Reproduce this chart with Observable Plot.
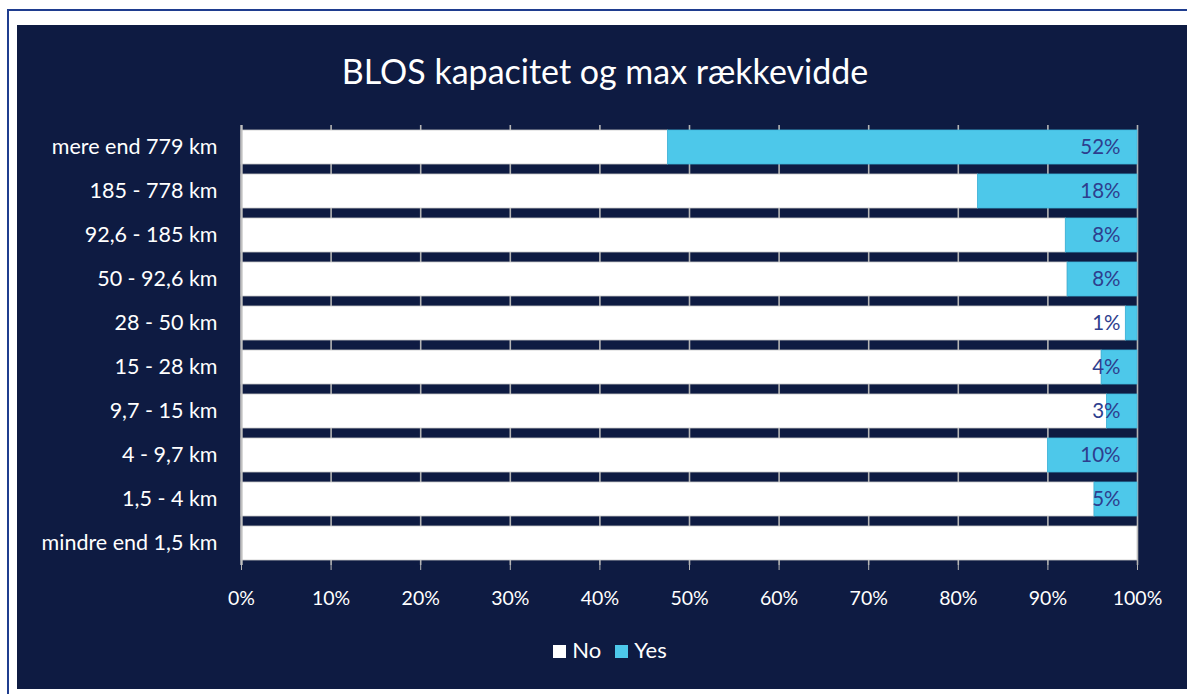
<!DOCTYPE html>
<html>
<head>
<meta charset="utf-8">
<script src="https://cdn.jsdelivr.net/npm/d3@7"></script>
<script src="https://cdn.jsdelivr.net/npm/@observablehq/plot@0.6"></script>
<style>
  html, body { margin: 0; padding: 0; background: #ffffff; width: 1187px; height: 694px; overflow: hidden; }
  #frame { position: absolute; left: 7px; top: 9px; width: 1200px; height: 720px; border: 2px solid #1f3d8f; box-sizing: border-box; }
  #panel { position: absolute; left: 17px; top: 25px; width: 1170px; height: 664px; background: #0e1b42; font-family: Lato, "Noto Sans", sans-serif; color: #fff; }
  #title { position: absolute; left: 0; width: 1176px; top: 26px; text-align: center; font-size: 34px; line-height: 40px; color: #fff; }
  #chart { position: absolute; left: 0; top: 85px; }
  #legend { position: absolute; left: 0; width: 1186px; top: 612px; text-align: center; font-size: 22px; line-height: 26px; color: #fff; }
  #legend span.sw { display: inline-block; width: 13px; height: 13px; margin-right: 6px; vertical-align: 0px; }
  #legend span.it { margin: 0 7px; }
  svg [aria-label="x-axis tick"] { stroke: #b4b4b4; }
</style>
</head>
<body>
<div id="frame"></div>
<div id="panel">
  <div id="title">BLOS kapacitet og max rækkevidde</div>
  <div id="chart"></div>
  <div id="legend"></div>
</div>
<script>
const categories = ["mere end 779 km", "185 - 778 km", "92,6 - 185 km", "50 - 92,6 km", "28 - 50 km", "15 - 28 km", "9,7 - 15 km", "4 - 9,7 km", "1,5 - 4 km", "mindre end 1,5 km"];
const yesValues = [52.4, 17.8, 8.0, 7.8, 1.3, 4.0, 3.4, 10.0, 4.8, 0];
const noValues = [47.6, 82.2, 92.0, 92.2, 98.7, 96.0, 96.6, 90.0, 95.2, 100];
const yesLabels = ["52%", "18%", "8%", "8%", "1%", "4%", "3%", "10%", "5%", ""];
const seriesNames = ["No", "Yes"];
const seriesColors = ["#ffffff", "#4dc8ea"];
const xTicks = [0, 10, 20, 30, 40, 50, 60, 70, 80, 90, 100];
const xTickLabels = ["0%", "10%", "20%", "30%", "40%", "50%", "60%", "70%", "80%", "90%", "100%"];

const rows = categories.map((c, i) => ({cat: c, no: noValues[i], yes: yesValues[i], label: yesLabels[i]}));
const long = [];
rows.forEach(r => {
  long.push({cat: r.cat, series: "No", value: r.no});
  long.push({cat: r.cat, series: "Yes", value: r.yes});
});

const chart = Plot.plot({
  width: 1170,
  height: 505,
  marginLeft: 224,
  marginRight: 50,
  marginTop: 15,
  marginBottom: 50,
  style: {background: "transparent", color: "#ffffff", fontFamily: "Lato, 'Noto Sans', sans-serif", fontSize: "18px", overflow: "visible"},
  x: {domain: [0, 100], ticks: xTicks, tickFormat: d => xTickLabels[xTicks.indexOf(d)], tickSize: 5, tickPadding: 21, label: null},
  y: {domain: categories, paddingInner: 0.22, paddingOuter: 0.11, label: null, tickSize: 0, tickPadding: 24},
  color: {domain: seriesNames, range: seriesColors},
  marks: [
    Plot.ruleX(xTicks, {stroke: "#b4b4b4", strokeWidth: 1.6}),
    Plot.barX(long, Plot.stackX({x: "value", y: "cat", fill: "series", order: seriesNames, stroke: d => d.series === "No" ? "#c8c8c8" : "#3fb6dc", strokeWidth: 0.8})),
    Plot.ruleX([0], {stroke: "#c0c0c0", strokeWidth: 2.2}),
    Plot.text(rows.filter(r => r.label !== ""), {x: () => 100, y: "cat", text: "label", dx: -17, textAnchor: "end", fill: "#2e3e8e", fontSize: 20.5})
  ]
});
chart.querySelectorAll('[aria-label="y-axis tick label"]').forEach(g => g.setAttribute("font-size", "21.5px"));
chart.querySelectorAll('[aria-label="x-axis tick label"]').forEach(g => g.setAttribute("font-size", "19.5px"));
document.getElementById("chart").appendChild(chart);

const legend = document.getElementById("legend");
seriesNames.forEach((s, i) => {
  const it = document.createElement("span");
  it.className = "it";
  const sw = document.createElement("span");
  sw.className = "sw";
  sw.style.background = seriesColors[i];
  it.appendChild(sw);
  it.appendChild(document.createTextNode(s));
  legend.appendChild(it);
});
</script>
</body>
</html>
